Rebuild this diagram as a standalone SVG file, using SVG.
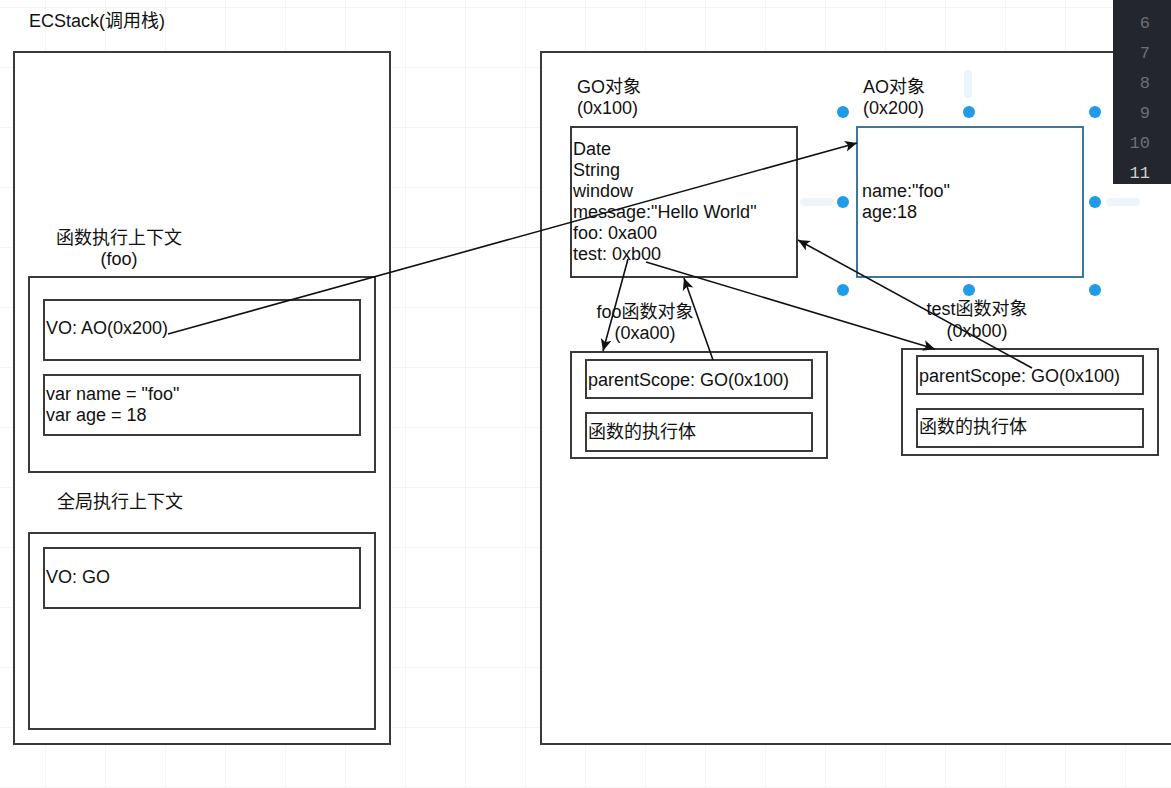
<svg xmlns="http://www.w3.org/2000/svg" width="1171" height="788" viewBox="0 0 1171 788">
  <defs>
    <pattern id="grid" x="45" y="7" width="60" height="60" patternUnits="userSpaceOnUse">
      <path d="M0,0 V60 M0,0 H60" fill="none" stroke="#ececec" stroke-width="1"/>
    </pattern>
    <marker id="arr" viewBox="0 0 12 12" refX="12" refY="6" markerWidth="12" markerHeight="12" markerUnits="userSpaceOnUse" orient="auto">
      <path d="M12,6 L0,0.5 L3,6 L0,11.5 Z" fill="#111"/>
    </marker>
  </defs>
  <style>
    .box { fill: #fff; stroke: #3a3a3a; stroke-width: 2; }
    .t { font-family: "Liberation Sans", "Noto Sans CJK SC", Arial, sans-serif; font-size: 18px; fill: #111; }
    .c { text-anchor: middle; }
    .conn { fill: none; stroke: #111; stroke-width: 1.6; marker-end: url(#arr); }
    .dot { fill: #1e9be9; }
    .hint { fill: #dcedf8; opacity: 0.55; }
    .ln { font-family: "Liberation Mono", "DejaVu Sans Mono", monospace; font-size: 17px; fill: #6c7078; text-anchor: end; }
  </style>
  <rect width="1171" height="788" fill="#fff"/>
  <rect width="1171" height="788" fill="url(#grid)"/>

  <text class="t" x="29" y="27">ECStack(调用栈)</text>

  <g id="ecstack">
    <rect class="box" x="14" y="52" width="376" height="692"/>
  </g>

  <g id="foo-context">
    <text class="t c" x="119" y="244">函数执行上下文</text>
    <text class="t c" x="119" y="265">(foo)</text>
    <rect class="box" x="29" y="277" width="346" height="195"/>
  </g>
  <g id="foo-vo">
    <rect class="box" x="44" y="300" width="316" height="60"/>
    <text class="t" x="46" y="334">VO: AO(0x200)</text>
  </g>
  <g id="foo-vars">
    <rect class="box" x="44" y="375" width="316" height="60"/>
    <text class="t" x="46" y="400">var name = "foo"</text>
    <text class="t" x="46" y="421">var age = 18</text>
  </g>

  <g id="global-context">
    <text class="t" x="57" y="508">全局执行上下文</text>
    <rect class="box" x="29" y="533" width="346" height="196"/>
  </g>
  <g id="global-vo">
    <rect class="box" x="44" y="548" width="316" height="60"/>
    <text class="t" x="46" y="583">VO: GO</text>
  </g>

  <g id="heap">
    <rect class="box" x="541" y="52" width="700" height="692"/>
  </g>

  <g id="go">
    <text class="t" x="577" y="93">GO对象</text>
    <text class="t" x="577" y="114">(0x100)</text>
    <rect class="box" x="571" y="127" width="226" height="150"/>
    <text class="t" x="573" y="155">Date</text>
    <text class="t" x="573" y="176">String</text>
    <text class="t" x="573" y="197">window</text>
    <text class="t" x="573" y="218">message:"Hello World"</text>
    <text class="t" x="573" y="239">foo: 0xa00</text>
    <text class="t" x="573" y="260">test: 0xb00</text>
  </g>

  <g id="ao">
    <rect class="hint" x="964" y="70" width="8" height="28" rx="4"/>
    <rect class="hint" x="800" y="198" width="34" height="8" rx="4"/>
    <rect class="hint" x="1106" y="198" width="34" height="8" rx="4"/>
    <text class="t" x="863" y="93">AO对象</text>
    <text class="t" x="863" y="114">(0x200)</text>
    <rect x="857" y="127" width="226" height="150" fill="#fff" stroke="#2b6a8c" stroke-width="1.8"/>
    <text class="t" x="862" y="197">name:"foo"</text>
    <text class="t" x="862" y="218">age:18</text>
    <circle class="dot" cx="843" cy="112" r="6"/>
    <circle class="dot" cx="969" cy="112" r="6"/>
    <circle class="dot" cx="1095" cy="112" r="6"/>
    <circle class="dot" cx="843" cy="202" r="6"/>
    <circle class="dot" cx="1095" cy="202" r="6"/>
    <circle class="dot" cx="843" cy="290" r="6"/>
    <circle class="dot" cx="969" cy="290" r="6"/>
    <circle class="dot" cx="1095" cy="290" r="6"/>
  </g>

  <g id="foo-func">
    <text class="t c" x="645" y="318">foo函数对象</text>
    <text class="t c" x="645" y="339">(0xa00)</text>
    <rect class="box" x="571" y="352" width="256" height="106"/>
    <rect class="box" x="586" y="360" width="226" height="38"/>
    <text class="t" x="588" y="386">parentScope: GO(0x100)</text>
    <rect class="box" x="586" y="413" width="226" height="38"/>
    <text class="t" x="588" y="438">函数的执行体</text>
  </g>

  <g id="test-func">
    <text class="t c" x="977" y="315">test函数对象</text>
    <text class="t c" x="977" y="337">(0xb00)</text>
    <rect class="box" x="902" y="349" width="256" height="106"/>
    <rect class="box" x="917" y="356" width="226" height="38"/>
    <text class="t" x="919" y="382">parentScope: GO(0x100)</text>
    <rect class="box" x="917" y="409" width="226" height="38"/>
    <text class="t" x="919" y="433">函数的执行体</text>
  </g>

  <g id="connectors">
    <path class="conn" d="M168,334 L857,143"/>
    <path class="conn" d="M628,259 L603,351"/>
    <path class="conn" d="M646,262 L935,349"/>
    <path class="conn" d="M713,360 L684,278"/>
    <path class="conn" d="M1032,368 L798,240"/>
  </g>

  <g id="editor-panel">
    <rect x="1113" y="0" width="58" height="184" fill="#23262c"/>
    <text class="ln" x="1150" y="28">6</text>
    <text class="ln" x="1150" y="58">7</text>
    <text class="ln" x="1150" y="88">8</text>
    <text class="ln" x="1150" y="118">9</text>
    <text class="ln" x="1150" y="148">10</text>
    <text class="ln" x="1150" y="178" style="fill:#d0d0d0">11</text>
  </g>
</svg>
